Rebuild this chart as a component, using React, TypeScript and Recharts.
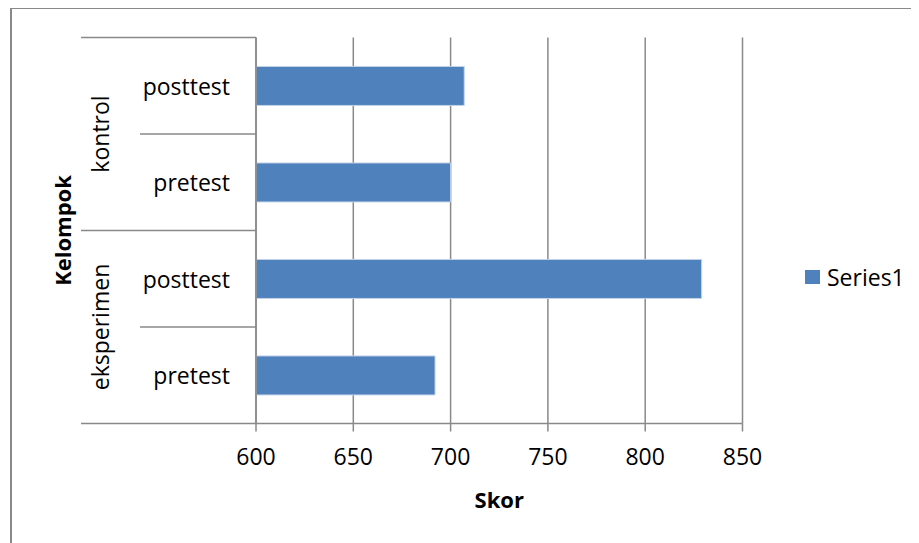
import { BarChart, Bar, XAxis, YAxis, CartesianGrid, Legend, Label } from "recharts";

const categories = ["posttest", "pretest", "posttest", "pretest"];
const groups = ["kontrol", "kontrol", "eksperimen", "eksperimen"];
const scores = [707, 700, 829, 692];
const xTicks = [600, 650, 700, 750, 800, 850];

const rows = categories.map((test, i) => ({
  key: `${groups[i]}-${test}`,
  test,
  group: groups[i],
  skor: scores[i],
}));

const WIDTH = 911;
const HEIGHT = 535;
const MARGIN = { top: 29.5, right: 176.5, bottom: 29.5, left: 0 };
const X_AXIS_HEIGHT = 90;
const Y_AXIS_WIDTH = 248;
const PLOT_HEIGHT = HEIGHT - MARGIN.top - MARGIN.bottom - X_AXIS_HEIGHT;
const BAND = PLOT_HEIGHT / rows.length;

const LINE = "#898989";
const FONT = "'Open Sans', sans-serif";

// two-level category axis: test name next to the bars, group name rotated further left
function GroupTick(props: any) {
  const { y, index } = props;
  const row = rows[index];
  const top = y - BAND / 2;
  const bottom = y + BAND / 2;
  const firstInGroup = index === 0 || rows[index - 1].group !== row.group;
  const groupSize = rows.filter((r) => r.group === row.group).length;
  const groupCenter = top + (groupSize * BAND) / 2;
  const isLast = index === rows.length - 1;

  return (
    <g>
      <text
        x={Y_AXIS_WIDTH - 26}
        y={y}
        textAnchor="end"
        dominantBaseline="central"
        fontSize={23}
        fontFamily={FONT}
        fill="#000"
      >
        {row.test}
      </text>
      {firstInGroup ? (
        <>
          <line x1={73} x2={Y_AXIS_WIDTH} y1={top} y2={top} stroke={LINE} strokeWidth={1.5} />
          <text
            x={92}
            y={groupCenter}
            transform={`rotate(-90, 92, ${groupCenter})`}
            textAnchor="middle"
            dominantBaseline="central"
            fontSize={23}
            fontFamily={FONT}
            fill="#000"
          >
            {row.group}
          </text>
        </>
      ) : (
        <line x1={132} x2={Y_AXIS_WIDTH} y1={top} y2={top} stroke={LINE} strokeWidth={1.5} />
      )}
      {isLast && (
        <line x1={73} x2={Y_AXIS_WIDTH} y1={bottom} y2={bottom} stroke={LINE} strokeWidth={1.5} />
      )}
    </g>
  );
}

function SeriesLegend() {
  return (
    <div style={{ display: "flex", alignItems: "center", fontFamily: FONT, fontSize: 23, lineHeight: "30px" }}>
      <span style={{ width: 15, height: 14, background: "#4F81BD", marginRight: 7, display: "inline-block" }} />
      <span style={{ color: "#000" }}>Series1</span>
    </div>
  );
}

export default function App() {
  return (
    <div style={{ position: "relative", width: WIDTH, height: HEIGHT, overflow: "hidden", background: "#fff" }}>
      <div
        style={{
          position: "absolute",
          left: 2,
          top: -1,
          width: WIDTH + 20,
          height: HEIGHT + 20,
          borderLeft: `2px solid ${LINE}`,
          borderTop: `2px solid ${LINE}`,
        }}
      />
      <BarChart
        width={WIDTH}
        height={HEIGHT}
        data={rows}
        layout="vertical"
        margin={MARGIN}
        barCategoryGap="30%"
        style={{ position: "relative" }}
      >
        <CartesianGrid horizontal={false} stroke={LINE} strokeWidth={1.5} />
        <XAxis
          type="number"
          domain={[600, 850]}
          ticks={xTicks}
          allowDataOverflow
          height={X_AXIS_HEIGHT}
          tickSize={8}
          tickMargin={17}
          stroke={LINE}
          strokeWidth={1.5}
          tick={{ fill: "#000", fontSize: 23, fontFamily: FONT }}
        >
          <Label
            content={(p: any) => (
              <text
                x={p.viewBox.x + p.viewBox.width / 2}
                y={p.viewBox.y + 84}
                textAnchor="middle"
                fontSize={22}
                fontWeight={700}
                fontFamily={FONT}
                fill="#000"
              >
                Skor
              </text>
            )}
          />
        </XAxis>
        <YAxis
          type="category"
          dataKey="key"
          width={Y_AXIS_WIDTH}
          tickLine={false}
          stroke={LINE}
          strokeWidth={1.5}
          tick={(p: any) => <GroupTick {...p} />}
        >
          <Label
            content={(p: any) => {
              const cy = p.viewBox.y + p.viewBox.height / 2;
              return (
                <text
                  x={54}
                  y={cy}
                  transform={`rotate(-90, 54, ${cy})`}
                  textAnchor="middle"
                  dominantBaseline="central"
                  fontSize={22}
                  fontWeight={700}
                  fontFamily={FONT}
                  fill="#000"
                >
                  Kelompok
                </text>
              );
            }}
          />
        </YAxis>
        <Legend
          layout="horizontal"
          verticalAlign="middle"
          align="center"
          content={() => <SeriesLegend />}
          wrapperStyle={{ left: 797, top: 254, width: 110 }}
        />
        <Bar dataKey="skor" name="Series1" fill="#4F81BD" stroke="#c3d3e8" strokeWidth={1} isAnimationActive={false} />
      </BarChart>
    </div>
  );
}
